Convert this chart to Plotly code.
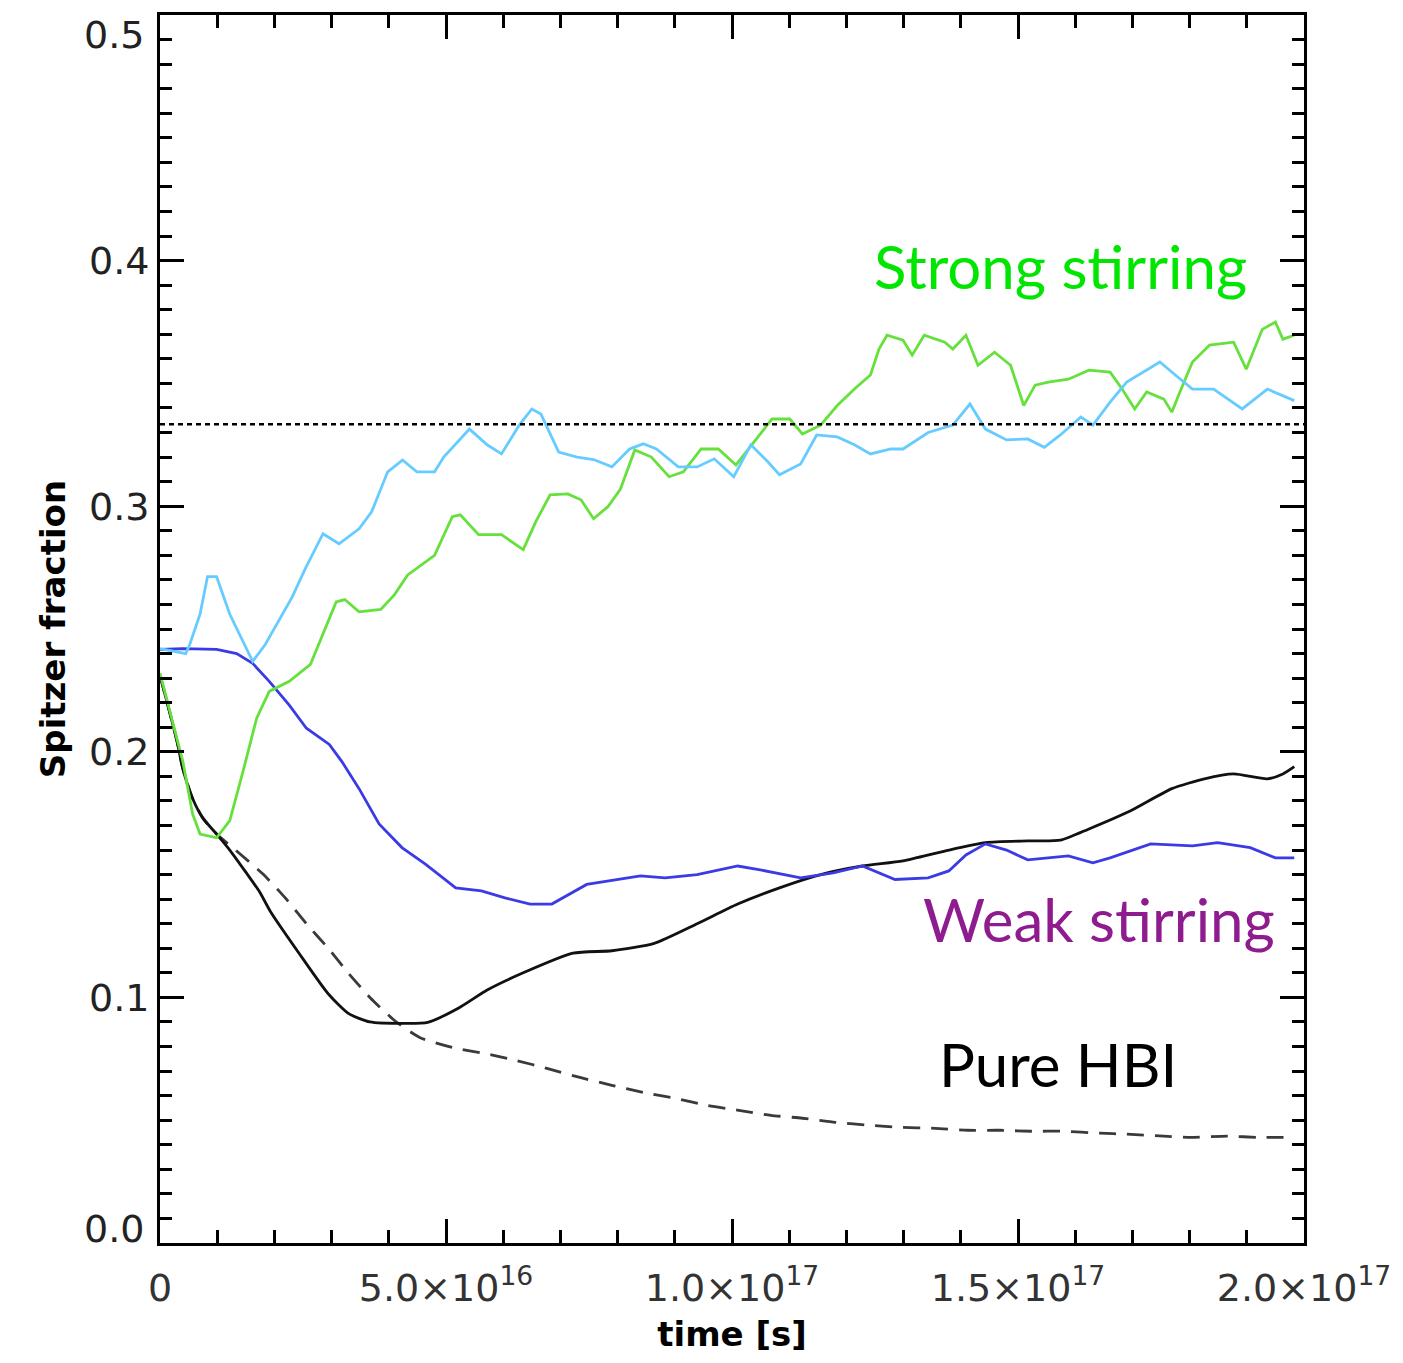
import plotly.graph_objects as go

# Time axis is in units of 1e16 s
# --- Pure HBI (solid black) ---
t_hbi = [0.0, 0.12, 0.30, 0.40, 0.57, 0.75, 0.99, 1.22, 1.50, 1.74, 1.93, 2.43, 2.94, 3.30, 3.67,
         4.30, 4.68, 5.23, 5.72, 6.35, 7.22, 7.90, 8.64, 9.39, 10.10, 10.83, 11.55, 12.28, 12.99,
         13.72, 14.43, 15.17, 15.74, 16.24, 16.97, 17.69, 18.26, 18.77, 19.36, 19.63, 19.83]
f_hbi = [0.231, 0.2205, 0.204, 0.193, 0.181, 0.173, 0.1665, 0.160, 0.151, 0.143, 0.135, 0.118,
         0.1015, 0.0934, 0.090, 0.0894, 0.0898, 0.0958, 0.103, 0.110, 0.118, 0.119, 0.122, 0.130,
         0.138, 0.1446, 0.150, 0.1535, 0.1556, 0.1596, 0.163, 0.1637, 0.164, 0.1686, 0.176, 0.185,
         0.189, 0.191, 0.189, 0.191, 0.194]

# --- reference run (dashed) ---
t_ref = [0.0, 0.12, 0.30, 0.40, 0.57, 0.75, 0.99, 1.32, 1.81, 2.19, 2.56, 2.94, 3.30, 3.67, 4.10,
         4.54, 5.11, 5.67, 6.23, 6.78, 7.34, 7.90, 8.45, 9.01, 9.57, 10.12, 10.68, 11.23, 11.81,
         12.43, 12.92, 13.55, 14.12, 14.68, 15.23, 15.79, 16.43, 16.90, 17.55, 18.02, 18.66,
         19.22, 19.77]
f_ref = [0.231, 0.2205, 0.204, 0.193, 0.181, 0.173, 0.1665, 0.160, 0.150, 0.1405, 0.130, 0.120,
         0.1097, 0.100, 0.0906, 0.0837, 0.0796, 0.0772, 0.0743, 0.071, 0.0674, 0.0642, 0.0613,
         0.0589, 0.056, 0.054, 0.052, 0.0508, 0.0491, 0.0479, 0.0471, 0.0467, 0.0459, 0.0459,
         0.0455, 0.0455, 0.0447, 0.0443, 0.0435, 0.043, 0.0435, 0.043, 0.043]

# --- weak stirring (blue) ---
t_weak = [0.0, 0.40, 0.99, 1.34, 1.62, 1.91, 2.26, 2.56, 2.96, 3.18, 3.48, 3.83, 4.23, 4.64, 5.17,
          5.62, 6.03, 6.47, 6.85, 7.46, 8.40, 8.83, 9.39, 10.10, 10.47, 11.20, 11.77, 12.28,
          12.85, 13.43, 13.79, 14.09, 14.43, 14.80, 15.17, 15.88, 16.31, 16.61, 17.32, 18.05,
          18.49, 19.06, 19.50, 19.83]
f_weak = [0.2417, 0.242, 0.2417, 0.240, 0.236, 0.2287, 0.219, 0.2096, 0.203, 0.196, 0.185,
          0.1706, 0.161, 0.1543, 0.1446, 0.1434, 0.1405, 0.138, 0.138, 0.146, 0.1495, 0.1487,
          0.150, 0.1535, 0.152, 0.1487, 0.1507, 0.1535, 0.148, 0.1487, 0.1515, 0.158, 0.1625,
          0.160, 0.156, 0.1576, 0.1548, 0.1568, 0.1625, 0.1617, 0.163, 0.161, 0.1568, 0.1568]

# --- intermediate stirring (light blue) ---
t_mid = [0.0, 0.45, 0.52, 0.70, 0.83, 0.99, 1.22, 1.62, 1.84, 2.16, 2.31, 2.54, 2.85, 3.13, 3.48,
         3.70, 3.98, 4.24, 4.49, 4.80, 4.96, 5.41, 5.72, 5.97, 6.28, 6.50, 6.66, 6.97, 7.29, 7.58,
         7.90, 8.21, 8.45, 8.68, 9.06, 9.39, 9.69, 10.03, 10.33, 10.63, 10.83, 11.20, 11.48,
         11.84, 12.14, 12.42, 12.78, 12.99, 13.43, 13.86, 14.16, 14.43, 14.80, 15.17, 15.46,
         15.74, 16.10, 16.31, 16.61, 16.90, 17.18, 17.48, 17.75, 18.05, 18.42, 18.92, 19.36,
         19.83]
f_mid = [0.242, 0.240, 0.2437, 0.256, 0.2713, 0.2713, 0.256, 0.2368, 0.2437, 0.257, 0.263,
         0.2746, 0.2888, 0.2847, 0.2908, 0.2977, 0.314, 0.3188, 0.314, 0.314, 0.320, 0.3314,
         0.325, 0.3213, 0.333, 0.3396, 0.3375, 0.322, 0.320, 0.319, 0.316, 0.3233, 0.3254,
         0.3233, 0.316, 0.316, 0.3193, 0.312, 0.325, 0.318, 0.3128, 0.3172, 0.329, 0.3282, 0.325,
         0.3213, 0.3233, 0.3233, 0.330, 0.333, 0.3416, 0.3314, 0.327, 0.3274, 0.324, 0.329,
         0.3363, 0.333, 0.3424, 0.3505, 0.3546, 0.3587, 0.3534, 0.3477, 0.3477, 0.3396, 0.3477,
         0.343]

# --- strong stirring (green) ---
t_strong = [0.0, 0.17, 0.40, 0.57, 0.70, 0.99, 1.22, 1.44, 1.69, 1.91, 2.26, 2.63, 2.85, 3.08,
            3.23, 3.48, 3.86, 4.10, 4.33, 4.80, 5.11, 5.25, 5.57, 5.97, 6.35, 6.57, 6.82, 7.13,
            7.36, 7.58, 7.83, 8.05, 8.30, 8.59, 8.90, 9.15, 9.46, 9.76, 10.07, 10.38, 10.70,
            11.01, 11.23, 11.55, 11.84, 12.14, 12.42, 12.57, 12.71, 12.99, 13.15, 13.36, 13.72,
            13.86, 14.09, 14.30, 14.59, 14.87, 15.10, 15.30, 15.53, 15.88, 16.24, 16.61, 16.82,
            17.04, 17.25, 17.55, 17.69, 17.83, 18.05, 18.35, 18.77, 18.99, 19.27, 19.50, 19.63,
            19.83]
f_strong = [0.232, 0.2165, 0.196, 0.1747, 0.1665, 0.165, 0.172, 0.191, 0.2137, 0.2246, 0.2287,
            0.2356, 0.2478, 0.261, 0.262, 0.257, 0.258, 0.264, 0.272, 0.280, 0.2957, 0.2965,
            0.2884, 0.2884, 0.2823, 0.2937, 0.3046, 0.305, 0.3026, 0.2949, 0.2998, 0.307, 0.3229,
            0.320, 0.312, 0.314, 0.3233, 0.3233, 0.3168, 0.326, 0.3355, 0.3355, 0.3294, 0.333,
            0.341, 0.3477, 0.3534, 0.364, 0.3696, 0.3676, 0.3615, 0.3696, 0.3668, 0.364, 0.3696,
            0.3574, 0.3627, 0.3574, 0.341, 0.3493, 0.3505, 0.3517, 0.3554, 0.3546, 0.3477, 0.3396,
            0.3465, 0.3436, 0.3383, 0.3465, 0.3587, 0.3656, 0.3668, 0.3558, 0.372, 0.375, 0.368,
            0.3696]

# isotropic (random field) value
f_iso = 1.0 / 3.0

x_tickvals = [0, 5, 10, 15, 20]
x_ticktext = ["0", "5.0×10<sup>16</sup>", "1.0×10<sup>17</sup>",
              "1.5×10<sup>17</sup>", "2.0×10<sup>17</sup>"]
y_tickvals = [0.1, 0.2, 0.3, 0.4]
y_ticktext = ["0.1", "0.2", "0.3", "0.4"]
# end labels of the y axis are set inside the frame
y_end_vals = [0.0, 0.5]
y_end_text = ["0.0", "0.5"]

fig = go.Figure()

fig.add_trace(go.Scatter(x=t_ref, y=f_ref, mode="lines",
                         line=dict(color="#3a3a3a", width=2.8, dash="17px,11px",
                                   shape="spline", smoothing=0.6)))
fig.add_trace(go.Scatter(x=t_hbi, y=f_hbi, mode="lines",
                         line=dict(color="#111111", width=2.8, shape="spline", smoothing=0.6)))
fig.add_trace(go.Scatter(x=t_weak, y=f_weak, mode="lines",
                         line=dict(color="#3b3be6", width=2.8)))
fig.add_trace(go.Scatter(x=t_strong, y=f_strong, mode="lines",
                         line=dict(color="#66e03c", width=2.8)))
fig.add_trace(go.Scatter(x=t_mid, y=f_mid, mode="lines",
                         line=dict(color="#66ccff", width=2.8)))

fig.add_hline(y=f_iso, line=dict(color="black", width=2.5, dash="5px,4px"))

tick_font = dict(family="DejaVu Sans", size=38, color="#222222")
fig.add_annotation(x=0, xref="paper", y=y_end_vals[0], yref="y", text=y_end_text[0],
                   showarrow=False, xanchor="right", yanchor="bottom", xshift=-14, yshift=-10,
                   font=tick_font)
fig.add_annotation(x=0, xref="paper", y=y_end_vals[1], yref="y", text=y_end_text[1],
                   showarrow=False, xanchor="right", yanchor="top", xshift=-14, yshift=4,
                   font=tick_font)

label_font = "Lato, 'Gill Sans', 'Open Sans', sans-serif"
fig.add_annotation(x=15.75, y=0.398, text="Strong stirring", showarrow=False,
                   xanchor="center", yanchor="middle",
                   font=dict(family=label_font, size=60, color="#00e600"))
fig.add_annotation(x=16.42, y=0.132, text="Weak stirring", showarrow=False,
                   xanchor="center", yanchor="middle",
                   font=dict(family=label_font, size=60, color="#8e1c8e"))
fig.add_annotation(x=15.7, y=0.073, text="Pure HBI", showarrow=False,
                   xanchor="center", yanchor="middle",
                   font=dict(family=label_font, size=60, color="black"))

axis_common = dict(
    showline=True, linecolor="black", linewidth=3, mirror="ticks",
    ticks="inside", tickcolor="black", tickwidth=2.5, ticklen=24,
    showgrid=False, zeroline=False,
)

fig.update_xaxes(
    range=[0, 20], tickvals=x_tickvals, ticktext=x_ticktext,
    minor=dict(ticks="inside", dtick=1, ticklen=13, tickwidth=2.5, tickcolor="black"),
    tickfont=dict(family="DejaVu Sans", size=38, color="#333333"),
    ticklabelstandoff=9,
    title=dict(text="<b>time [s]</b>", font=dict(family="DejaVu Sans", size=34, color="black"),
               standoff=14),
    **axis_common,
)
fig.update_yaxes(
    range=[0, 0.5], tickvals=y_tickvals, ticktext=y_ticktext,
    minor=dict(ticks="inside", dtick=0.01, ticklen=12, tickwidth=2.5, tickcolor="black"),
    tickfont=tick_font,
    title=dict(text="<b>Spitzer fraction</b>",
               font=dict(family="DejaVu Sans", size=34, color="black"), standoff=14),
    **axis_common,
)

fig.update_layout(
    width=1403, height=1363,
    margin=dict(l=160, r=91, t=13, b=120),
    paper_bgcolor="white", plot_bgcolor="white",
    showlegend=False,
)

fig.write_html("out.html")
